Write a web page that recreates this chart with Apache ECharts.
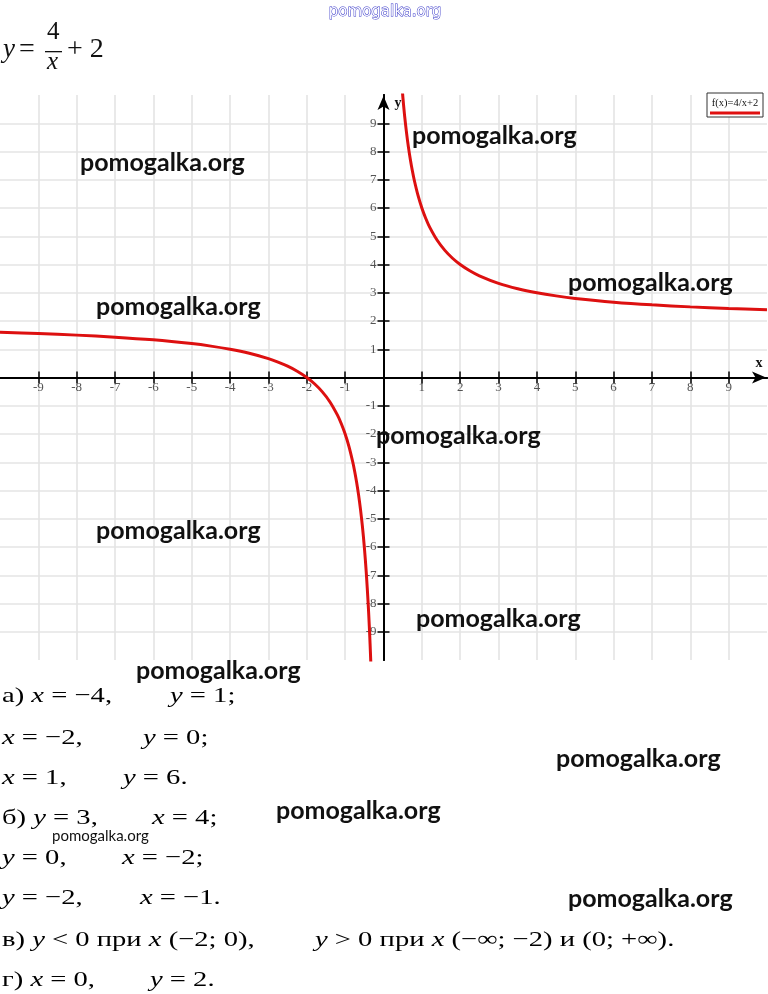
<!DOCTYPE html>
<html><head><meta charset="utf-8">
<script src="https://cdn.jsdelivr.net/npm/echarts@6.0.0/dist/echarts.min.js"></script>
<style>html,body{margin:0;padding:0;background:#fff}#c{width:768px;height:994px}</style>
</head><body><div id="c"></div>
<script>
// ---- data ----
const leftX  = [-10, -9, -8, -7, -6, -5, -4.5, -4, -3.5, -3, -2.75, -2.5, -2.25, -2, -1.8, -1.6, -1.4, -1.2, -1.1, -1, -0.9, -0.8, -0.75, -0.7, -0.65, -0.6, -0.55, -0.5, -0.45, -0.4, -0.37, -0.35, -0.33];
const leftY  = [1.6, 1.556, 1.5, 1.429, 1.333, 1.2, 1.111, 1, 0.857, 0.667, 0.545, 0.4, 0.222, 0, -0.222, -0.5, -0.857, -1.333, -1.636, -2, -2.444, -3, -3.333, -3.714, -4.154, -4.667, -5.273, -6, -6.889, -8, -8.811, -9.429, -10.121];
const rightX = [0.45, 0.5, 0.55, 0.6, 0.65, 0.7, 0.75, 0.8, 0.9, 1, 1.1, 1.2, 1.4, 1.6, 1.8, 2, 2.25, 2.5, 3, 3.5, 4, 4.5, 5, 6, 7, 8, 9, 10];
const rightY = [10.889, 10, 9.273, 8.667, 8.154, 7.714, 7.333, 7, 6.444, 6, 5.636, 5.333, 4.857, 4.5, 4.222, 4, 3.778, 3.6, 3.333, 3.143, 3, 2.889, 2.8, 2.667, 2.571, 2.5, 2.444, 2.4];
const xTickValues = [-9, -8, -7, -6, -5, -4, -3, -2, -1, 1, 2, 3, 4, 5, 6, 7, 8, 9];
const yTickValues = [-9, -8, -7, -6, -5, -4, -3, -2, -1, 1, 2, 3, 4, 5, 6, 7, 8, 9];
const legendLabel = 'f(x)=4/x+2';
const watermark = 'pomogalka.org';

const serif = '"Liberation Serif", "Times New Roman", serif';
const chart = echarts.init(document.getElementById('c'), null, {renderer: 'canvas'});

const leftData = leftX.map((x, i) => [x, leftY[i]]);
const rightData = rightX.map((x, i) => [x, rightY[i]]);

function mainAxis(isX) {
  return {
    type: 'value', min: -10, max: 10, interval: 1,
    axisLine: {onZero: true, onZeroAxisIndex: 0, lineStyle: {color: '#000', width: 2},
      symbol: ['none', 'arrow'], symbolSize: [9, 14], symbolOffset: [0, -1]},
    axisTick: {show: true, customValues: isX ? xTickValues : yTickValues, length: 6, inside: false,
      lineStyle: {color: '#000', width: 1.5}},
    axisLabel: {show: false},
    splitLine: {show: true, lineStyle: {color: '#e4e4e4', width: 1.6}}
  };
}
function tickAxis(isX) {
  return {
    type: 'value', min: -10, max: 10, interval: 1,
    position: isX ? 'top' : 'right',
    axisLine: {show: true, onZero: true, onZeroAxisIndex: 0, lineStyle: {color: '#000', width: 2}},
    axisTick: {show: true, customValues: isX ? xTickValues : yTickValues, length: 6, inside: false,
      lineStyle: {color: '#000', width: 1.5}},
    axisLabel: {show: false},
    splitLine: {show: false}
  };
}

const wmBig = [[80,163],[412,136],[568,283],[96,307],[376,436],[96,531],[416,619],[136,671],[556,759],[276,811],[568,899]];

const graphics = [];
// formula title
graphics.push({type: 'text', left: 3, top: 36, style: {text: 'y', font: 'italic 27px ' + serif, fill: '#111'}});
graphics.push({type: 'text', left: 19, top: 36, style: {text: '=', font: '28px ' + serif, fill: '#111'}});
graphics.push({type: 'text', left: 47, top: 20, style: {text: '4', font: '25px ' + serif, fill: '#111'}});
graphics.push({type: 'rect', shape: {x: 45, y: 51, width: 17, height: 1.3}, style: {fill: '#111'}});
graphics.push({type: 'text', left: 47, top: 50, style: {text: 'x', font: 'italic 25px ' + serif, fill: '#111'}});
graphics.push({type: 'text', left: 67, top: 36, style: {text: '+ 2', font: '28px ' + serif, fill: '#111'}});
// top blue watermark
graphics.push({type: 'text', x: 385, y: 12, style: {text: watermark, font: '15px "DejaVu Sans"', fill: '#fff', stroke: '#3535c8', lineWidth: 1, align: 'center', verticalAlign: 'middle'}, z: 100});
// axis names
graphics.push({type: 'text', x: 398, y: 103, style: {text: 'y', font: 'bold 14px ' + serif, fill: '#111', align: 'center', verticalAlign: 'middle'}});
graphics.push({type: 'text', x: 759, y: 363, style: {text: 'x', font: 'bold 14px ' + serif, fill: '#111', align: 'center', verticalAlign: 'middle'}});
// legend box
graphics.push({type: 'rect', shape: {x: 707, y: 93, width: 56, height: 24}, style: {fill: '#fff', stroke: '#333', lineWidth: 1}, z: 50});
graphics.push({type: 'text', x: 735, y: 103, style: {text: legendLabel, font: '10.5px ' + serif, fill: '#111', align: 'center', verticalAlign: 'middle'}, z: 51});
graphics.push({type: 'line', shape: {x1: 710, y1: 113, x2: 760, y2: 113}, style: {stroke: '#e01010', lineWidth: 3}, z: 51});
// big watermarks
wmBig.forEach(p => graphics.push({type: 'text', x: p[0], y: p[1], z: 100,
  style: {text: watermark, font: 'bold 25px Lato', fill: '#111', align: 'left', verticalAlign: 'middle'}}));
graphics.push({type: 'text', x: 52, y: 836, z: 100, style: {text: watermark, font: '15px Lato', fill: '#111', align: 'left', verticalAlign: 'middle'}});

// answer lines
const rich = {
  u: {fontFamily: serif, fontSize: 22, color: '#111'},
  i: {fontFamily: serif, fontSize: 22, fontStyle: 'italic', color: '#111'}
};
const lines = [
  [2, 696, '{u|а) }{i|x}{u| = −4,}'], [170, 696, '{i|y}{u| = 1;}'],
  [2, 738, '{i|x}{u| = −2,}'], [143, 738, '{i|y}{u| = 0;}'],
  [2, 778, '{i|x}{u| = 1,}'], [123, 778, '{i|y}{u| = 6.}'],
  [2, 818, '{u|б) }{i|y}{u| = 3,}'], [152, 818, '{i|x}{u| = 4;}'],
  [2, 858, '{i|y}{u| = 0,}'], [122, 858, '{i|x}{u| = −2;}'],
  [2, 898, '{i|y}{u| = −2,}'], [140, 898, '{i|x}{u| = −1.}'],
  [2, 940, '{u|в) }{i|y}{u| < 0 при }{i|x}{u| (−2; 0),}'], [315, 940, '{i|y}{u| > 0 при }{i|x}{u| (−∞; −2) и (0; +∞).}'],
  [2, 980, '{u|г) }{i|x}{u| = 0,}'], [150, 980, '{i|y}{u| = 2.}']
];
lines.forEach(l => graphics.push({type: 'text', x: l[0], y: l[1], scaleX: 1.3, originX: 0, originY: 0,
  style: {text: l[2], rich: rich, align: 'left', verticalAlign: 'middle'}}));

const tickLabelStyle = {fontFamily: serif, fontSize: 13, color: '#2a2a2a'};

chart.setOption({
  animation: false,
  backgroundColor: '#fff',
  grid: {left: 0, right: 1, top: 95, bottom: 334, containLabel: false},
  xAxis: [mainAxis(true), tickAxis(true)],
  yAxis: [mainAxis(false), tickAxis(false)],
  series: [
    {type: 'line', name: legendLabel, data: leftData, xAxisIndex: 0, yAxisIndex: 0, showSymbol: false, smooth: 0.3, clip: true,
      lineStyle: {color: '#dd1010', width: 3}, z: 5},
    {type: 'line', name: legendLabel, data: rightData, xAxisIndex: 0, yAxisIndex: 0, showSymbol: false, smooth: 0.3, clip: true,
      lineStyle: {color: '#dd1010', width: 3}, z: 5},
    {type: 'scatter', data: xTickValues.map(v => [v, 0]), symbolSize: 0, silent: true, z: 3,
      label: {show: true, position: 'bottom', distance: 4, formatter: p => String(p.value[0]), ...tickLabelStyle}},
    {type: 'scatter', data: yTickValues.map(v => [0, v]), symbolSize: 0, silent: true, z: 3,
      label: {show: true, position: 'left', distance: 7, formatter: p => String(p.value[1]), ...tickLabelStyle}}
  ],
  graphic: graphics
});
</script>
</body></html>
